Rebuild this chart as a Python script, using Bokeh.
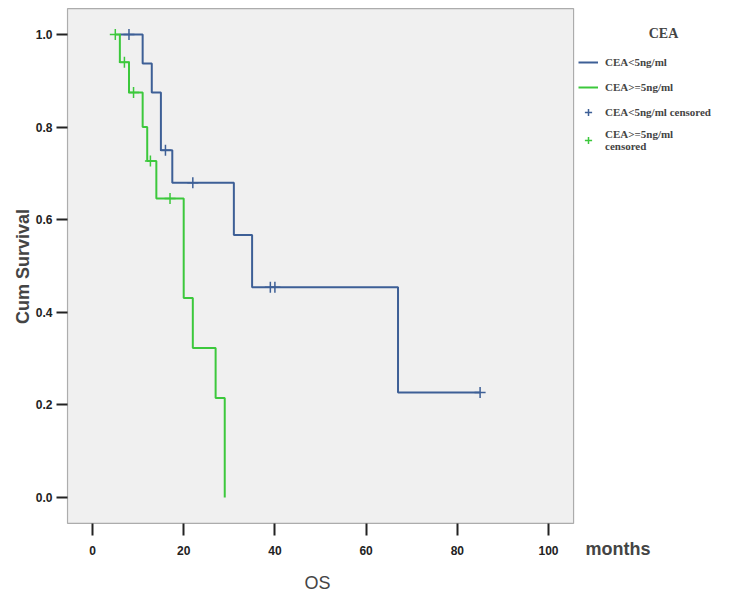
import math
from bokeh.plotting import figure
from bokeh.models import (Legend, LegendItem, Label, FixedTicker, NumeralTickFormatter,
                          Range1d, BoxAnnotation)
from bokeh.embed import file_html
from bokeh.resources import INLINE

# Kaplan-Meier steps (months, cumulative survival)
low_times = [6, 11, 13, 15, 17.5, 31, 35, 67, 85]
low_surv = [1.0, 0.9375, 0.875, 0.75, 0.68, 0.567, 0.454, 0.227, 0.227]
low_cens_t = [8, 16, 22, 39, 40, 85]
low_cens_s = [1.0, 0.75, 0.68, 0.454, 0.454, 0.227]

high_times = [5, 6, 8, 11, 12, 14, 20, 22, 27, 29]
high_surv = [1.0, 0.94, 0.875, 0.80, 0.727, 0.646, 0.431, 0.323, 0.215, 0.0]
high_cens_t = [5, 7, 9, 12.7, 17]
high_cens_s = [1.0, 0.94, 0.875, 0.727, 0.646]

x_ticks = [0, 20, 40, 60, 80, 100]
y_ticks = [0.0, 0.2, 0.4, 0.6, 0.8, 1.0]

labels = ["CEA<5ng/ml", "CEA>=5ng/ml", "CEA<5ng/ml censored", "CEA>=5ng/ml\ncensored"]
legend_title = "CEA"
x_title = "OS"
x_unit = "months"
y_title = "Cum Survival"

# plot-area extent (data units) of the grey panel
AREA_X = (-5.48, 105.5)
AREA_Y = (-0.056, 1.056)

BLUE = "#3d5f96"
GREEN = "#3cc83c"

W, H = 745, 595
p = figure(width=W, height=H, output_backend="svg", toolbar_location=None,
           x_range=Range1d(-92 / 4.56, (W - 92) / 4.56),
           y_range=Range1d(-(H - 497) / 463, 497 / 463),
           min_border_left=0, min_border_right=0, min_border_top=0, min_border_bottom=0)

p.background_fill_color = "white"
p.border_fill_color = "white"
p.outline_line_color = None
p.xgrid.visible = False
p.ygrid.visible = False

p.add_layout(BoxAnnotation(left=AREA_X[0], right=AREA_X[1], bottom=AREA_Y[0], top=AREA_Y[1],
                           fill_color="#f0f0f0", fill_alpha=1, line_color="black",
                           line_width=1.2, level="underlay"))

r1 = p.step(low_times, low_surv, mode="after", line_color=BLUE, line_width=2)
r2 = p.step(high_times, high_surv, mode="after", line_color=GREEN, line_width=2)
r3 = p.scatter(low_cens_t, low_cens_s, marker="cross", size=11, line_color=BLUE, line_width=1.5)
r4 = p.scatter(high_cens_t, high_cens_s, marker="cross", size=11, line_color=GREEN, line_width=1.5)

for ax in (p.xaxis[0], p.yaxis[0]):
    ax.minor_tick_line_color = None
    ax.major_tick_in = 0
    ax.major_label_text_font = "Liberation Sans"
    ax.major_label_text_font_style = "bold"
    ax.major_label_text_font_size = "12px"
    ax.major_label_text_color = "#222222"
    ax.axis_line_color = None
    ax.major_tick_line_color = "#222222"
    ax.major_tick_line_width = 2

p.xaxis.fixed_location = AREA_Y[0]
p.yaxis.fixed_location = AREA_X[0]
p.xaxis.ticker = FixedTicker(ticks=x_ticks)
p.yaxis.ticker = FixedTicker(ticks=y_ticks)
p.yaxis.formatter = NumeralTickFormatter(format="0.0")
p.xaxis.major_tick_out = 12
p.yaxis.major_tick_out = 11
p.xaxis.major_label_standoff = 11
p.yaxis.major_label_standoff = 4

legend = Legend(items=[
    LegendItem(label=labels[0], renderers=[r1]),
    LegendItem(label=labels[1], renderers=[r2]),
    LegendItem(label=labels[2], renderers=[r3]),
    LegendItem(label=labels[3], renderers=[r4]),
], location=(578, H - 152))
legend.border_line_color = None
legend.background_fill_alpha = 0
legend.label_text_font = "Liberation Serif"
legend.label_text_font_style = "bold"
legend.label_text_font_size = "11px"
legend.label_text_line_height = 1.6
legend.glyph_width = 20
legend.glyph_height = 18
legend.label_height = 18
legend.spacing = 7
legend.padding = 0
legend.margin = 0
legend.label_standoff = 7
p.add_layout(legend, "center")

p.add_layout(Label(x=663, y=H - 33, x_units="screen", y_units="screen", text=legend_title,
                   text_font="Liberation Serif", text_font_style="bold", text_font_size="14px",
                   text_align="center", text_baseline="middle"))
p.add_layout(Label(x=585, y=H - 548, x_units="screen", y_units="screen", text=x_unit,
                   text_font="Liberation Sans", text_font_style="bold", text_font_size="18px",
                   text_align="left", text_baseline="middle"))
p.add_layout(Label(x=317, y=H - 582, x_units="screen", y_units="screen", text=x_title,
                   text_font="Liberation Sans", text_font_style="normal", text_font_size="18px",
                   text_align="center", text_baseline="middle"))
p.add_layout(Label(x=22, y=H - 266, x_units="screen", y_units="screen", text=y_title,
                   angle=math.pi / 2,
                   text_font="Liberation Sans", text_font_style="bold", text_font_size="18px",
                   text_align="center", text_baseline="middle"))

open("out.html", "w").write(file_html(p, INLINE))
